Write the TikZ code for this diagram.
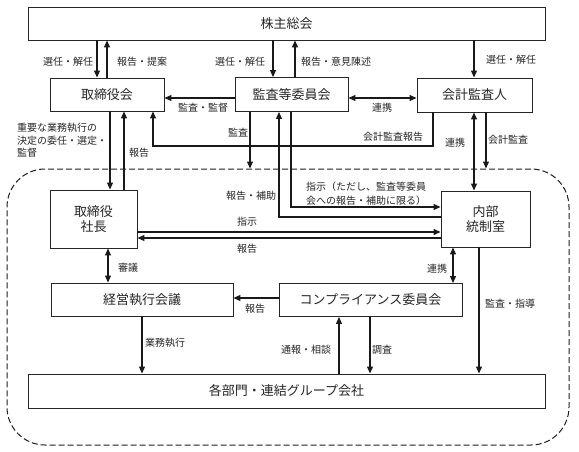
\documentclass[tikz,border=0pt]{standalone}
\usepackage{fontspec}
\setmainfont{Noto Sans CJK JP}
\usetikzlibrary{arrows.meta,calc}
\begin{document}
\begin{tikzpicture}[x=1pt,y=-1pt,
  box/.style={draw=black!85, line width=0.9pt, inner sep=0pt, font=\fontsize{13}{15}\selectfont, text=black!85, align=center},
  lab/.style={font=\fontsize{10}{13}\selectfont, text=black!85, inner sep=0pt},
  arr/.style={line width=1.1pt, draw=black!90, -{Triangle[length=7pt,width=6pt]}},
  darr/.style={line width=1.1pt, draw=black!90, {Triangle[length=7pt,width=6pt]}-{Triangle[length=7pt,width=6pt]}},
  grpbox/.style={draw=black!88, line width=1pt, dash pattern=on 6pt off 3pt, rounded corners=38pt, inner sep=0pt}
]
\useasboundingbox (0,0) rectangle (579,452);
\fill[white] (0,0) rectangle (579,452);

% group frame
\node[grpbox, minimum width=562pt, minimum height=276pt] (grp) at (288,307) {};

% boxes
\node[box, minimum width=517pt, minimum height=33pt] (kabu) at (286.5,23.5) {株主総会};
\node[box, minimum width=114pt, minimum height=33pt] (tori) at (107,94.5) {取締役会};
\node[box, minimum width=113pt, minimum height=34pt] (kansa) at (291.5,94.5) {監査等委員会};
\node[box, minimum width=115pt, minimum height=34pt] (kaikei) at (474.5,95) {会計監査人};
\node[box, minimum width=87pt, minimum height=58pt] (shacho) at (93.5,219) {取締役\\社長};
\node[box, minimum width=89pt, minimum height=56pt] (naibu) at (485.5,219) {内部\\統制室};
\node[box, minimum width=182pt, minimum height=33pt] (keiei) at (142,299.5) {経営執行会議};
\node[box, minimum width=183pt, minimum height=33pt] (comp) at (370.5,300) {コンプライアンス委員会};
\node[box, minimum width=517pt, minimum height=34pt] (kaku) at (286.5,391) {各部門・連結グループ会社};

% connectors top
\draw[arr] (97,0 |- kabu.south) -- (97,0 |- tori.north);
\draw[arr] (107,0 |- tori.north) -- (107,0 |- kabu.south);
\draw[arr] (273,0 |- kabu.south) -- (273,0 |- kansa.north);
\draw[arr] (295,0 |- kansa.north) -- (295,0 |- kabu.south);
\draw[arr] (474,0 |- kabu.south) -- (474,0 |- kaikei.north);
\draw[arr] (0,98 -| kansa.west) -- (0,98 -| tori.east);
\draw[darr] (0,98 -| kansa.east) -- (0,98 -| kaikei.west);
\draw[arr] (433,0 |- kaikei.south) |- (153,146) -- (153,0 |- tori.south);

\draw[arr] (110,0 |- tori.south) -- (110,0 |- shacho.north);
\draw[arr] (124,0 |- shacho.north) -- (124,0 |- tori.south);

\coordinate (kansaend) at (250,0 |- grp.north);
\draw[arr] (250,0 |- kansa.south) -- (kansaend);
\coordinate (kaikeiend) at (486,0 |- grp.north);
\draw[arr] (486,0 |- kaikei.south) -- (kaikeiend);
\draw[darr] (474,0 |- kaikei.south) -- (474,0 |- naibu.north);

\draw[arr] (0,217 -| naibu.west) -| (279,0 |- kansa.south);
\draw[arr] (291,0 |- kansa.south) |- (0,207 -| naibu.west);
\draw[arr] (0,232 -| shacho.east) -- (0,232 -| naibu.west);
\draw[arr] (0,238 -| naibu.west) -- (0,238 -| shacho.east);

\draw[darr] (108,0 |- shacho.south) -- (108,0 |- keiei.north);
\draw[darr] (453,0 |- naibu.south) -- (453,0 |- comp.north);
\draw[arr] (0,298 -| comp.west) -- (0,298 -| keiei.east);
\draw[arr] (479,0 |- naibu.south) -- (479,0 |- kaku.north);
\draw[arr] (142,0 |- keiei.south) -- (142,0 |- kaku.north);
\draw[arr] (339,0 |- kaku.north) -- (339,0 |- comp.south);
\draw[arr] (370,0 |- comp.south) -- (370,0 |- kaku.north);

% labels
\node[lab] (l1) at (68,62) {選任・解任};
\node[lab] (l2) at (142,62) {報告・提案};
\node[lab] (l3) at (240,62) {選任・解任};
\node[lab] (l4) at (336,62) {報告・意見陳述};
\node[lab] (l5) at (511,60) {選任・解任};
\node[lab] (l6) at (203,108) {監査・監督};
\node[lab] (l7) at (382,108) {連携};
\node[lab] (l8) at (393,137) {会計監査報告};
\node[lab, align=left, anchor=west, font=\fontsize{10}{12.5}\selectfont] (l9) at (17,140.5) {重要な業務執行の\\決定の委任・選定・\\監督};
\node[lab] (l10) at (139,153) {報告};
\node[lab] (l11) at (238,133) {監査};
\node[lab] (l12) at (508,140) {会計監査};
\node[lab] (l13) at (455,143) {連携};
\node[lab] (l14) at (251,196) {報告・補助};
\node[lab, align=left, anchor=west, font=\fontsize{10}{14}\selectfont] (l15) at (306,194) {指示（ただし、監査等委員\\会への報告・補助に限る）};
\node[lab] (l16) at (247,222) {指示};
\node[lab] (l17) at (247,249) {報告};
\node[lab] (l18) at (128,268) {審議};
\node[lab] (l19) at (437,269) {連携};
\node[lab] (l20) at (255,309) {報告};
\node[lab] (l21) at (510,304) {監査・指導};
\node[lab] (l22) at (165,343) {業務執行};
\node[lab] (l23) at (306,350) {通報・相談};
\node[lab] (l24) at (382,350) {調査};
\end{tikzpicture}
\end{document}
